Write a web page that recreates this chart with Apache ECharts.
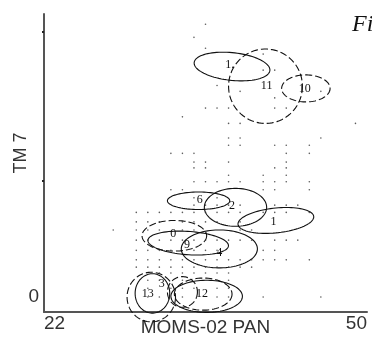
<!DOCTYPE html>
<html>
<head>
<meta charset="utf-8">
<script src="https://cdn.jsdelivr.net/npm/echarts@6/dist/echarts.min.js"></script>
<style>html,body{margin:0;padding:0;background:#fff}#c{width:372px;height:337px}</style>
</head>
<body>
<div id="c"></div>
<script>
// ---- data (x: MOMS-02 PAN DN, y: TM 7 DN) ----
const xTickLabels = [22, 50];
const yTickLabels = [0];
const yTickMarks = [16, 36.4];

// pixel-grid dots: one y value per row, list of x values per row
const dotY = [37.4, 35.6, 34.1, 33.3, 31.1, 29.0, 28.2, 27.3, 25.9, 24.7, 23.8, 21.8, 20.8, 19.7, 18.5, 17.7, 16.7, 15.8, 14.7, 13.6, 12.6, 11.6, 10.3, 9.2, 7.8, 6.4, 5.1, 4.1, 3.3, 2.3, 1.2, 0];
const dotX = [
  [36], [35], [36], [41], [41, 42], [37], [39, 46], [42],
  [36, 37, 38, 42, 43], [34], [38, 39, 49], [38, 39, 46],
  [38, 39, 42, 43, 45], [33, 34, 35, 43, 45], [35, 36, 38, 43], [35, 36, 42, 43],
  [38, 41, 43], [35, 36, 37, 38, 39, 41, 42, 43, 45], [33, 34, 41, 42, 45], [35, 37],
  [35, 36, 37, 38, 39, 42, 43, 44],
  [30, 31, 32, 33, 34, 35, 36, 37, 38, 39, 41, 42, 43, 45],
  [30, 31, 32, 34, 35, 36, 37, 39],
  [28, 30, 31, 32, 34, 35, 39, 40],
  [30, 31, 32, 33, 34, 35, 36, 37, 38, 39, 40, 42, 43, 44],
  [30, 31, 32, 33, 35, 36, 37, 41, 42],
  [30, 31, 32, 33, 34, 35, 36, 37, 38, 39, 40, 41, 42, 43, 45],
  [30, 31, 32, 33, 34, 35, 36, 37, 38, 39, 40],
  [32, 33, 34, 35, 36, 37, 38],
  [31, 32, 34, 37, 38],
  [31, 33, 34, 35, 37, 38],
  [31, 32, 34, 37, 38, 41, 46]
];

// class ellipses: centre, semi-axes (data units), tilt (deg), dashed
const ellCx   = [38.3, 41.2, 44.7, 35.4, 38.6, 42.1, 33.3, 34.5, 37.2, 31.3, 31.4, 36.1, 35.8, 34.0];
const ellCy   = [31.6, 28.9, 28.6, 13.2, 12.3, 10.5, 8.4, 7.4, 6.6, 0.0, 0.5, 0.1, 0.4, 0.7];
const ellRx   = [3.3, 3.2, 2.1, 2.7, 2.7, 3.3, 2.8, 3.5, 3.3, 2.1, 1.5, 3.1, 2.5, 1.3];
const ellRy   = [1.9, 5.1, 1.85, 1.2, 2.6, 1.7, 2.1, 1.6, 2.6, 3.4, 2.7, 2.2, 2.2, 2.1];
const ellTilt = [6, 0, 0, 0, 0, -6, 0, 4, 0, 0, 0, 0, 0, 0];
const ellDash = [0, 1, 1, 0, 0, 0, 1, 0, 0, 1, 0, 0, 1, 1];

// class labels
const labText = ['1.', '11', '10', '6', '2', '1', '0', '9', '4', '13', '3', '12'];
const labX    = [38.1, 41.3, 44.6, 35.5, 38.3, 41.9, 33.2, 34.4, 37.2, 31.0, 32.2, 35.7];
const labY    = [31.8, 29.0, 28.6, 13.3, 12.5, 10.3, 8.6, 7.1, 6.0, 0.5, 1.8, 0.4];

// ---- build ----
const dots = [];
dotY.forEach((y, i) => dotX[i].forEach(x => dots.push([x, y])));
const ellData = ellCx.map((c, i) => [c, ellCy[i], ellRx[i], ellRy[i], ellTilt[i], ellDash[i]]);
const labData = labText.map((t, i) => ({ value: [labX[i], labY[i]], name: t }));

function renderEllipse(params, api) {
  const c = api.coord([api.value(0), api.value(1)]);
  const s = api.size([api.value(2), api.value(3)]);
  const a = api.value(4) * Math.PI / 180;
  const pts = [];
  for (let i = 0; i < 90; i++) {
    const t = i / 90 * 2 * Math.PI;
    const ex = s[0] * Math.cos(t), ey = s[1] * Math.sin(t);
    pts.push([c[0] + ex * Math.cos(a) - ey * Math.sin(a), c[1] + ex * Math.sin(a) + ey * Math.cos(a)]);
  }
  return {
    type: 'polygon', shape: { points: pts },
    style: { fill: 'none', stroke: '#111', lineWidth: 1.1, lineDash: api.value(5) ? [7, 3] : null }
  };
}
function renderLabel(params, api) {
  const c = api.coord([api.value(0), api.value(1)]);
  return {
    type: 'text', x: c[0], y: c[1],
    style: { text: labText[params.dataIndex], font: '12px "Liberation Serif"', fill: '#111', align: 'center', verticalAlign: 'middle' }
  };
}

const chart = echarts.init(document.getElementById('c'), null, { renderer: 'canvas' });
chart.setOption({
  animation: false,
  backgroundColor: '#fff',
  grid: { left: 44, right: 5, top: 14, bottom: 25, containLabel: false, outerBoundsMode: 'none' },
  xAxis: {
    type: 'value', min: 22, max: 50,
    name: 'MOMS-02 PAN', nameLocation: 'middle', nameGap: 6, nameMoveOverlap: false,
    nameTextStyle: { fontFamily: 'Liberation Sans', fontSize: 19, color: '#333', verticalAlign: 'top' },
    axisLine: { show: true, onZero: false, lineStyle: { color: '#555', width: 2 } },
    axisTick: { show: false },
    splitLine: { show: false },
    axisLabel: { customValues: xTickLabels, margin: 2, fontFamily: 'Liberation Sans', fontSize: 19, color: '#333', alignMinLabel: 'left', alignMaxLabel: 'right' }
  },
  yAxis: {
    type: 'value', min: -2.05, max: 38.8,
    axisLine: { show: true, onZero: false, lineStyle: { color: '#555', width: 2 } },
    axisTick: { show: true, customValues: yTickMarks, length: 2, lineStyle: { color: '#222', width: 2 } },
    splitLine: { show: false },
    axisLabel: { customValues: yTickLabels, margin: 5, fontFamily: 'Liberation Sans', fontSize: 19, color: '#333' }
  },
  graphic: [
    { type: 'text', x: 21, y: 153, rotation: Math.PI / 2, style: { text: 'TM 7', font: '18px "Liberation Sans"', fill: '#333', align: 'center', verticalAlign: 'middle' } },
    { type: 'text', x: 352, y: 13, style: { text: 'Fi', font: 'italic 24px "Liberation Serif"', fill: '#111' } }
  ],
  series: [
    { type: 'scatter', data: dots, symbolSize: 1.6, itemStyle: { color: '#333' }, silent: true },
    { type: 'custom', data: ellData, renderItem: renderEllipse, itemStyle: { color: '#111' }, silent: true },
    { type: 'custom', data: labData, renderItem: renderLabel, itemStyle: { color: '#111' }, silent: true }
  ]
});
</script>
</body>
</html>
